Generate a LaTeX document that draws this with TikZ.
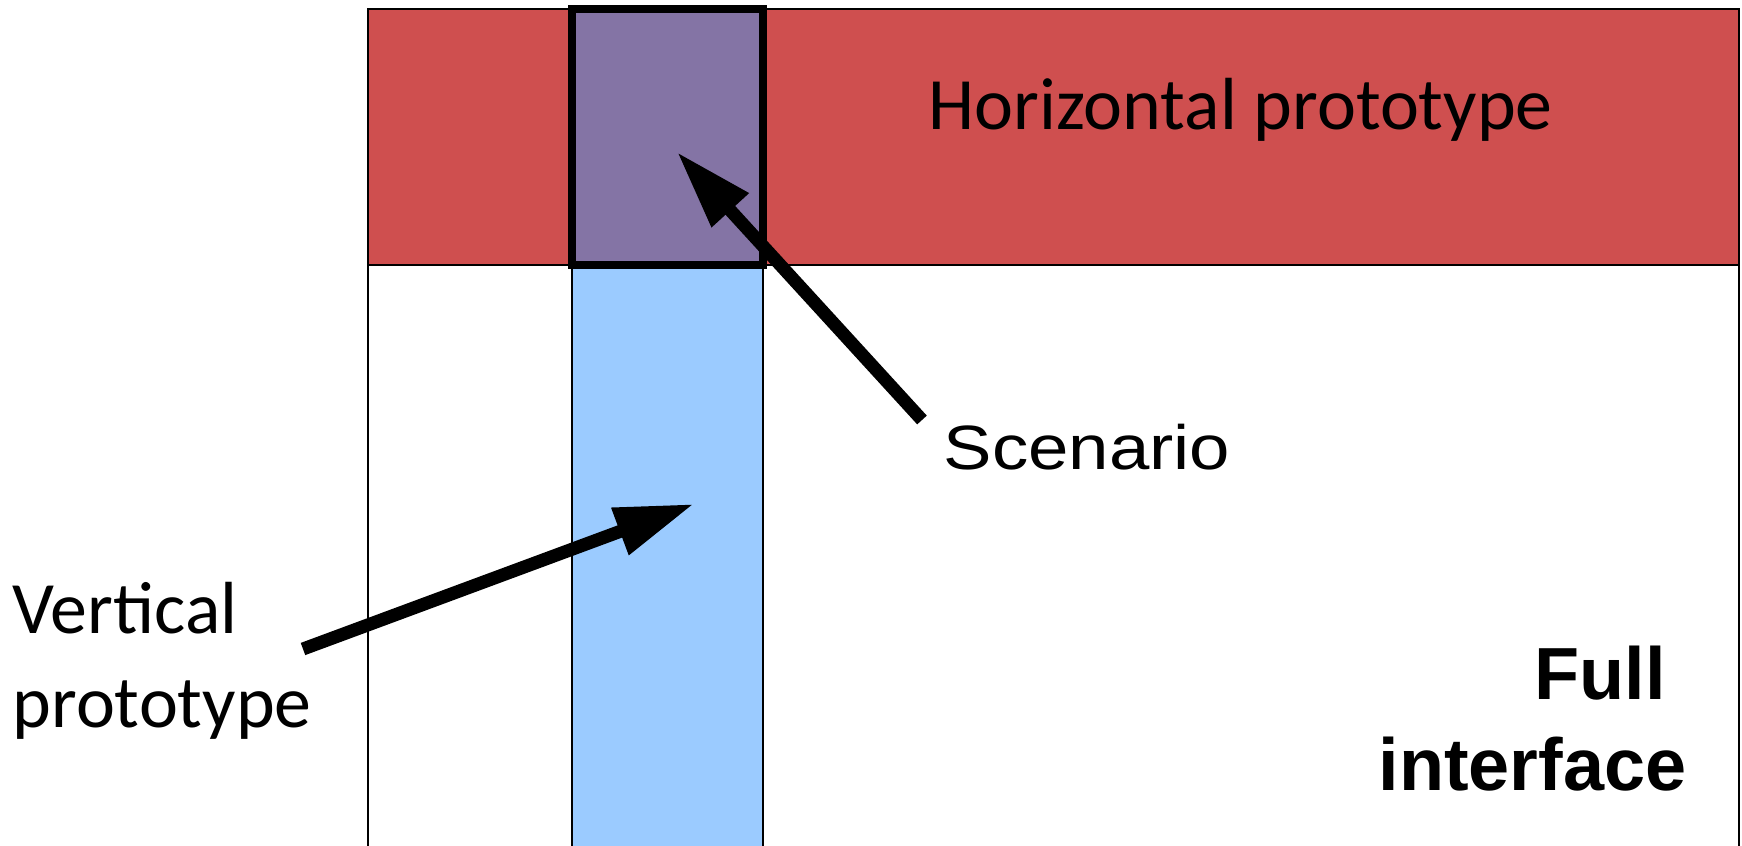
\documentclass[tikz,border=0pt]{standalone}
\usepackage{fontspec}
\usepackage{graphicx}
\usetikzlibrary{arrows.meta}
\newfontfamily\calibri{Carlito}
\newfontfamily\arial{Liberation Sans}
\definecolor{horizred}{RGB}{207,79,79}
\definecolor{scenpurple}{RGB}{132,116,165}
\definecolor{vertblue}{RGB}{155,203,255}

\begin{document}
\begin{tikzpicture}[x=0.01cm, y=-0.01cm,
		thinbox/.style={draw=black, line width=0.02cm},
		pointer/.style={line width=0.13cm, -{Triangle[length=0.79cm, width=0.47cm]}},
		calibritext/.style={inner sep=0pt, font=\calibri\fontsize{21}{26.5}\selectfont},
	]
	\useasboundingbox (0,0) rectangle (1742,846);
	\clip (0,0) rectangle (1742,846);

	% interface, horizontal band and vertical column
	\draw [thinbox, fill=white] (368,9) rectangle (1739,900);
	\draw [thinbox, fill=horizred] (368,9) rectangle (1739,265);
	\draw [thinbox, fill=vertblue] (572,265) rectangle (763,900);
	\draw [line width=0.08cm, fill=scenpurple] (572,9) rectangle (763,265);

	% labels (base of a two-line node is its last line)
	\node (horiz) [calibritext, anchor=base west] at (928,130) {Horizontal prototype};
	\node (vert) [calibritext, anchor=base west, align=left] at (12,727) {Vertical\\prototype};
	\node (scenario) [inner sep=0pt, anchor=base west, font=\arial\fontsize{17.8}{20}\selectfont] at (943,470) {\scalebox{1.16}[1]{Scenario}};
	\node (full) [inner sep=0pt, anchor=base east, align=right, font=\arial\bfseries\fontsize{21}{25.6}\selectfont] at (1687,790) {Full\hspace*{.28em}\\interface};

	% arrows
	\coordinate (scenariotail) at (922,420);
	\coordinate (scenariotip) at (677,152);
	\coordinate (verttail) at (303,649);
	\coordinate (verttip) at (694,504);
	\draw [pointer] (scenariotail) -- (scenariotip);
	\draw [pointer] (verttail) -- (verttip);
\end{tikzpicture}
\end{document}
